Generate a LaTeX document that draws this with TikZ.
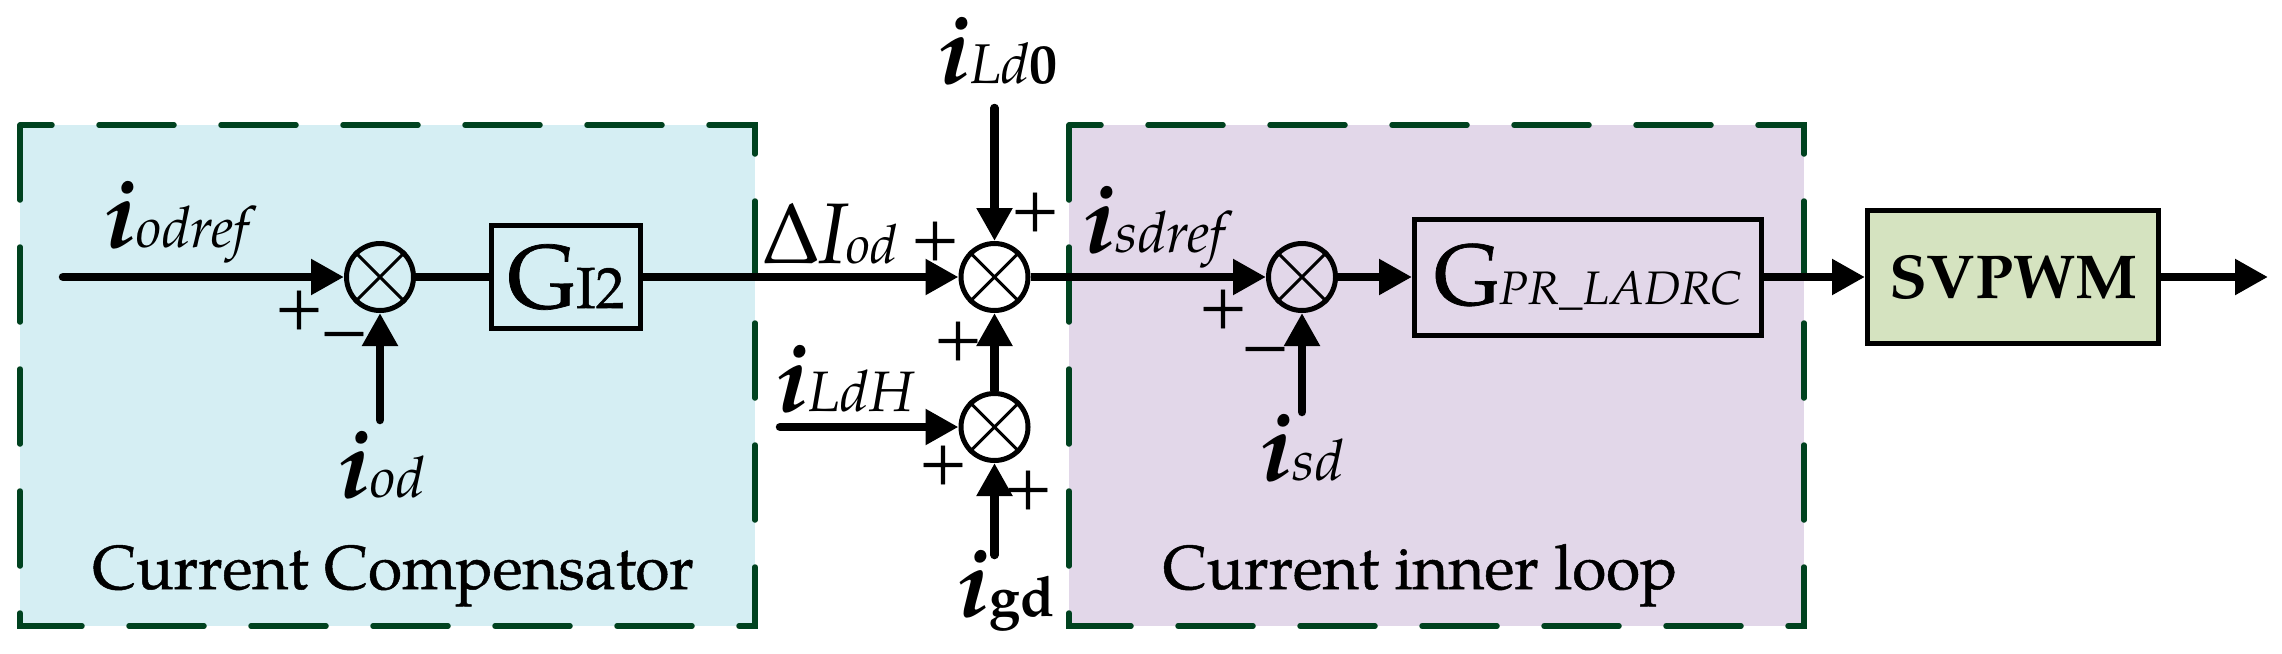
\documentclass[tikz,border=0pt]{standalone}
\usepackage{fontspec}
\setmainfont{TeX Gyre Pagella}
\newfontfamily\heavyfont[FakeBold=0.8]{TeX Gyre Pagella}
\usetikzlibrary{arrows.meta}
\definecolor{cyanfill}{HTML}{D5EEF3}
\definecolor{lavfill}{HTML}{E2D7E9}
\definecolor{greenfill}{HTML}{D5E3C0}
\definecolor{grpgreen}{HTML}{00421F}
\newcommand\BigI{{\fontsize{98}{98}\selectfont\bfseries\itshape i}}
\newcommand\SubI[1]{{\fontsize{57}{57}\selectfont\itshape #1}}
\begin{document}
\begin{tikzpicture}[x=1pt,y=-1pt,
  sig/.style={line width=8.5pt,-{Triangle[length=33pt,width=34pt]}},
  sigline/.style={line width=8.5pt},
  sumnode/.style={circle,draw,line width=5pt,minimum size=67pt,inner sep=0pt},
  crossline/.style={line width=3pt},
  blk/.style={draw,line width=5pt,inner sep=0pt},
  grp/.style={draw=grpgreen,line width=5.5pt,dash pattern=on 75pt off 47pt,line cap=round},
  pm/.style={inner sep=0pt,font=\heavyfont\fontsize{64}{64}\selectfont},
  lab/.style={inner sep=0pt},
  title/.style={inner sep=0pt,font=\heavyfont\fontsize{62}{62}\selectfont}]
\useasboundingbox (0,0) rectangle (2282,653);
% group boxes
\draw[grp,fill=cyanfill] (20,125) rectangle (755,626);
\draw[grp,fill=lavfill] (1069,125) rectangle (1804,626);
% summing junctions
\node[sumnode] (s1) at (380,277) {};
\node[sumnode] (s2) at (994.5,277) {};
\node[sumnode] (s3) at (994.5,427) {};
\node[sumnode] (s4) at (1302,277) {};
\foreach \s in {s1,s2,s3,s4}{
  \draw[crossline] (\s.45) -- (\s.225) (\s.135) -- (\s.315);
}
% blocks
\node[blk,minimum width=149pt,minimum height=103pt] (gi2) at (566,277)
  {\heavyfont{\fontsize{90}{90}\selectfont G}{\fontsize{58}{58}\selectfont I2}};
\node[blk,minimum width=347pt,minimum height=116pt] (gpr) at (1588,277)
  {{\heavyfont\fontsize{86}{86}\selectfont G}{\fontsize{47}{47}\selectfont\itshape PR\_LADRC}};
\node[blk,fill=greenfill,minimum width=291pt,minimum height=133pt] (svpwm) at (2013,277)
  {\fontsize{62}{62}\selectfont\bfseries SVPWM};
% free ends
\coordinate (inref) at (63,277);
\coordinate (inod) at (380,420);
\coordinate (inld0) at (994.5,108);
\coordinate (inldh) at (780,427);
\coordinate (ingd) at (994.5,555);
\coordinate (insd) at (1302,412);
\coordinate (outend) at (2268,277);
% connectors
\draw[sig,line cap=round] (inref) -- (s1.west);
\draw[sig,line cap=round] (inod) -- (s1.south);
\draw[sigline] (s1.east) -- (gi2.west);
\draw[sig] (gi2.east) -- (s2.west);
\draw[sig,line cap=round] (inld0) -- (s2.north);
\draw[sig,line cap=round] (inldh) -- (s3.west);
\draw[sig,line cap=round] (ingd) -- (s3.south);
\draw[sig] (s3.north) -- (s2.south);
\draw[sig] (s2.east) -- (s4.west);
\draw[sig,line cap=round] (insd) -- (s4.south);
\draw[sig] (s4.east) -- (gpr.west);
\draw[sig] (gpr.east) -- (svpwm.west);
\draw[sig] (svpwm.east) -- (outend);
% signal labels
\node[lab,anchor=base west] (lodref) at (104,247) {\BigI\SubI{odref}};
\node[lab,anchor=base west] (lod) at (338,497) {\BigI\SubI{od}};
\node[lab,anchor=base west] (ldI) at (764,263)
  {{\fontsize{86}{86}\selectfont Δ\itshape I}{\fontsize{54}{54}\selectfont\itshape od}};
\node[lab,anchor=base west] (lld0) at (938,83)
  {\BigI{\fontsize{56}{56}\selectfont\itshape Ld\upshape\bfseries 0}};
\node[lab,anchor=base west] (lldh) at (776,411) {\BigI\SubI{LdH}};
\node[lab,anchor=base west] (lgd) at (957,616)
  {\BigI{\fontsize{56}{56}\selectfont\bfseries gd}};
\node[lab,anchor=base west] (lsdref) at (1083,252) {\BigI\SubI{sdref}};
\node[lab,anchor=base west] (lsd) at (1260,480) {\BigI\SubI{sd}};
% signs
\node[pm] (p1) at (299,310) {+};
\node[pm] (m1) at (344,341) {−};
\node[pm] (p2) at (935,241) {+};
\node[pm] (p3) at (1035,212) {+};
\node[pm] (p4) at (958,341) {+};
\node[pm] (p5) at (943,465) {+};
\node[pm] (p6) at (1028,490) {+};
\node[pm] (p7) at (1223,309) {+};
\node[pm] (m2) at (1265,356) {−};
% group titles
\node[title,anchor=base] (t1) at (393,589) {Current Compensator};
\node[title,anchor=base] (t2) at (1420,589) {Current inner loop};
\end{tikzpicture}
\end{document}
